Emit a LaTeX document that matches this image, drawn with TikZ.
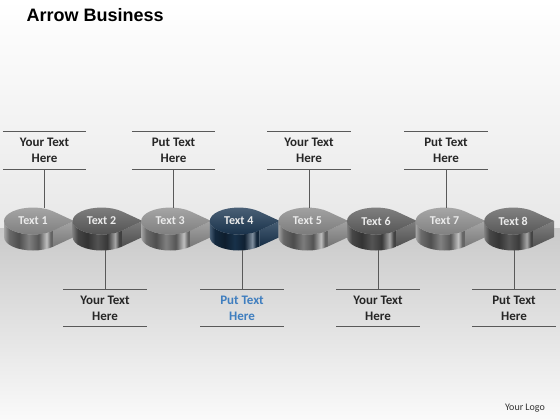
\documentclass[tikz,border=0pt]{standalone}
\usepackage{fontspec}
\setmainfont{Carlito}
\newfontfamily\titlefont{Liberation Sans}
\usepackage{xcolor}

\definecolor{drop-1}{HTML}{8E8E8E}
\definecolor{drop-2}{HTML}{5C5C5C}
\definecolor{drop-3}{HTML}{8E8E8E}
\definecolor{drop-4}{HTML}{1A3652}
\definecolor{drop-5}{HTML}{8A8A8A}
\definecolor{drop-6}{HTML}{5E5E5E}
\definecolor{drop-7}{HTML}{909090}
\definecolor{drop-8}{HTML}{616161}
\definecolor{put-blue}{HTML}{3F7EBF}
\colorlet{drop-base}{gray}

\pgfdeclarehorizontalshading[drop-base]{drop-metal}{100bp}{%
    color(0bp)=(drop-base!80!white); color(25bp)=(drop-base!80!white);
    color(30bp)=(drop-base!75!black); color(40bp)=(drop-base!55!black);
    color(50bp)=(drop-base!90!black); color(60bp)=(drop-base!60!black);
    color(68bp)=(drop-base!55!white); color(72bp)=(drop-base!70!black);
    color(75bp)=(drop-base!70!black); color(100bp)=(drop-base!70!black)}

\tikzset{
    drop-label/.style = {text=white!92!black, font=\bfseries\fontsize{12}{14}\selectfont, inner sep=0pt, minimum width=58pt, minimum height=26pt},
    callout-box/.style = {font=\bfseries\fontsize{13}{16}\selectfont, align=center, text=black!85, inner sep=0pt, minimum width=83pt, minimum height=37pt},
    callout-line/.style = {draw=black!65, line width=0.8pt},
}

\begin{document}
\begin{tikzpicture}[x=1pt, y=-1pt]
\useasboundingbox (0,0) rectangle (560,420);
% background
\shade[top color=white, bottom color=black!9] (0,0) rectangle (560,228);
\shade[top color=black!21, bottom color=black!2] (0,228) rectangle (560,420);

\node[anchor=west, font=\titlefont\bfseries\fontsize{18}{20}\selectfont] (title) at (23,15) {Arrow Business};
\node[font=\fontsize{10}{12}\selectfont, text=black!80] (logo) at (525,408) {Your Logo};

% the eight drops
\foreach \i in {1,...,8} {
    \pgfmathsetmacro\cx{33+(\i-1)*68.6}
    \colorlet{drop-base}{drop-\i}
    \shade[shading=drop-metal] (\cx-29,221) arc[start angle=180, end angle=45, x radius=29, y radius=13.5]
        -- ++(0,16) arc[start angle=45, end angle=180, x radius=29, y radius=13.5] -- cycle;
    \shade[top color=drop-base!80!white, bottom color=drop-base!85!black]
        (\cx+20.5,230.5) -- (\cx+41,221) -- ++(0,16) -- (\cx+20.5,246.5) -- cycle;
    \shade[top color=drop-base!78!white, bottom color=drop-base!88!black]
        (\cx+41,221) -- (\cx+20.5,211.5) arc[start angle=315, end angle=45, x radius=29, y radius=13.5] -- cycle;
    \node[drop-label] (t\i) at (\cx,221) {Text \i};
    \coordinate (b\i) at (\cx,250);
}

% callouts
\node[callout-box] (c1) at (44.5,150.5) {Your Text\\Here};
\node[callout-box] (c3) at (173.5,150.5) {Put Text\\Here};
\node[callout-box] (c5) at (309,150.5) {Your Text\\Here};
\node[callout-box] (c7) at (446,150.5) {Put Text\\Here};
\node[callout-box] (c2) at (105,308) {Your Text\\Here};
\node[callout-box, text=put-blue] (c4) at (242,308) {Put Text\\Here};
\node[callout-box] (c6) at (378,308) {Your Text\\Here};
\node[callout-box] (c8) at (514,308) {Put Text\\Here};

\foreach \i in {1,...,8}
    \draw[callout-line] (c\i.north west) -- (c\i.north east) (c\i.south west) -- (c\i.south east);
\foreach \i in {1,3,5,7}
    \draw[callout-line] (c\i.south) -- (c\i.south |- t\i.north);
\foreach \i in {2,4,6,8}
    \draw[callout-line] (c\i.north) -- (c\i.north |- b\i);
\end{tikzpicture}
\end{document}
